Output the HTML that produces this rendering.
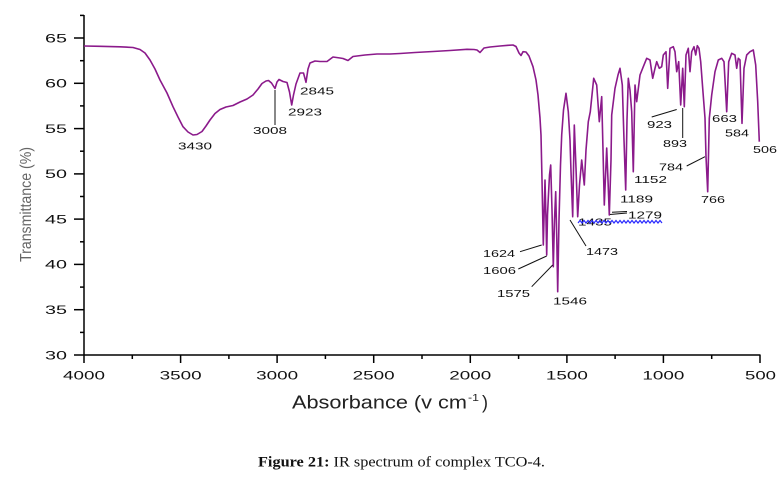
<!DOCTYPE html>
<html>
<head>
<meta charset="utf-8">
<style>
html,body{margin:0;padding:0;background:#fff;}
body{width:777px;height:481px;overflow:hidden;}
svg{display:block;}
.tk{font-family:"Liberation Sans",sans-serif;font-size:12px;fill:#111;}
.pk{font-family:"Liberation Sans",sans-serif;font-size:10.5px;fill:#111;}
</style>
</head>
<body>
<svg width="777" height="481" viewBox="0 0 777 481" xmlns="http://www.w3.org/2000/svg">
<rect width="777" height="481" fill="#fff"/>

<!-- axes -->
<g stroke="#000" stroke-width="1.5" fill="none">
<line x1="84" y1="15" x2="84" y2="355.5"/>
<line x1="83.5" y1="355" x2="760.5" y2="355"/>
<!-- y major ticks -->
<line x1="74" y1="355" x2="84" y2="355"/>
<line x1="74" y1="309.7" x2="84" y2="309.7"/>
<line x1="74" y1="264.4" x2="84" y2="264.4"/>
<line x1="74" y1="219.1" x2="84" y2="219.1"/>
<line x1="74" y1="173.9" x2="84" y2="173.9"/>
<line x1="74" y1="128.6" x2="84" y2="128.6"/>
<line x1="74" y1="83.3" x2="84" y2="83.3"/>
<line x1="74" y1="38" x2="84" y2="38"/>
<!-- y minor -->
<line x1="80" y1="332.4" x2="84" y2="332.4"/>
<line x1="80" y1="287.1" x2="84" y2="287.1"/>
<line x1="80" y1="241.8" x2="84" y2="241.8"/>
<line x1="80" y1="196.5" x2="84" y2="196.5"/>
<line x1="80" y1="151.2" x2="84" y2="151.2"/>
<line x1="80" y1="105.9" x2="84" y2="105.9"/>
<line x1="80" y1="60.7" x2="84" y2="60.7"/>
<line x1="80" y1="15.4" x2="84" y2="15.4"/>
<!-- x major -->
<line x1="84" y1="355" x2="84" y2="363"/>
<line x1="180.6" y1="355" x2="180.6" y2="363"/>
<line x1="277.1" y1="355" x2="277.1" y2="363"/>
<line x1="373.7" y1="355" x2="373.7" y2="363"/>
<line x1="470.3" y1="355" x2="470.3" y2="363"/>
<line x1="566.9" y1="355" x2="566.9" y2="363"/>
<line x1="663.4" y1="355" x2="663.4" y2="363"/>
<line x1="760" y1="355" x2="760" y2="363"/>
<!-- x minor -->
<line x1="132.3" y1="355" x2="132.3" y2="359"/>
<line x1="228.9" y1="355" x2="228.9" y2="359"/>
<line x1="325.4" y1="355" x2="325.4" y2="359"/>
<line x1="422" y1="355" x2="422" y2="359"/>
<line x1="518.6" y1="355" x2="518.6" y2="359"/>
<line x1="615.1" y1="355" x2="615.1" y2="359"/>
<line x1="711.7" y1="355" x2="711.7" y2="359"/>
</g>

<!-- y tick labels -->
<g class="tk">
<text x="45" y="359.3" textLength="22" lengthAdjust="spacingAndGlyphs">30</text>
<text x="45" y="314" textLength="22" lengthAdjust="spacingAndGlyphs">35</text>
<text x="45" y="268.7" textLength="22" lengthAdjust="spacingAndGlyphs">40</text>
<text x="45" y="223.4" textLength="22" lengthAdjust="spacingAndGlyphs">45</text>
<text x="45" y="178.2" textLength="22" lengthAdjust="spacingAndGlyphs">50</text>
<text x="45" y="132.9" textLength="22" lengthAdjust="spacingAndGlyphs">55</text>
<text x="45" y="87.6" textLength="22" lengthAdjust="spacingAndGlyphs">60</text>
<text x="45" y="42.3" textLength="22" lengthAdjust="spacingAndGlyphs">65</text>
</g>
<!-- x tick labels -->
<g class="tk">
<text x="63" y="379.5" textLength="42" lengthAdjust="spacingAndGlyphs">4000</text>
<text x="159.6" y="379.5" textLength="42" lengthAdjust="spacingAndGlyphs">3500</text>
<text x="256.1" y="379.5" textLength="42" lengthAdjust="spacingAndGlyphs">3000</text>
<text x="352.7" y="379.5" textLength="42" lengthAdjust="spacingAndGlyphs">2500</text>
<text x="449.3" y="379.5" textLength="42" lengthAdjust="spacingAndGlyphs">2000</text>
<text x="545.9" y="379.5" textLength="42" lengthAdjust="spacingAndGlyphs">1500</text>
<text x="642.4" y="379.5" textLength="42" lengthAdjust="spacingAndGlyphs">1000</text>
<text x="745" y="379.5" textLength="31" lengthAdjust="spacingAndGlyphs">500</text>
</g>

<!-- axis titles -->
<text transform="translate(31,262) rotate(-90)" font-family="Liberation Sans, sans-serif" font-size="16" fill="#666" textLength="115" lengthAdjust="spacingAndGlyphs">Transmittance (%)</text>

<text x="292" y="408.3" font-family="Liberation Sans, sans-serif" font-size="18" fill="#222" textLength="175" lengthAdjust="spacingAndGlyphs">Absorbance (v cm</text>
<text x="468" y="401" font-family="Liberation Sans, sans-serif" font-size="10" fill="#222" textLength="11" lengthAdjust="spacingAndGlyphs">-1</text>
<text x="482" y="408.3" font-family="Liberation Sans, sans-serif" font-size="18" fill="#222">)</text>

<!-- spectrum -->
<polyline fill="none" stroke="#8B1A8B" stroke-width="1.6" stroke-linejoin="round" points="
84,46 100,46.3 120,46.8 133,47.5 140,49.5 145,53 150,60 155,69 160,80 167,93 173,106.7 178,117 183,126.7 188,132 193,135 197,134.5 202,131.5 206,126 210,120 215,113.5 220,109.5 226,107 233,105.5 240,102 247,99 253,95 258,89 262,83.5 266,81 268.5,80.5 271.5,83 275,88.5 277,82 279,79.5 283,81.5 287,82.5 289.5,92 291.7,105 293.5,95 296,84 300,73 303.5,73 306,82.3 308,69 310,63 315,61 320,61.5 327,61.5 333,57 340,58 343,58.5 348,60.5 353,56.5 365,55 377,54 390,54 400,53.5 415,52.5 433,51.5 450,50.5 467,49.3 474,49.5 477,50 480,52.5 484,48 490,47 500,46 508,45.3 513,45 516,46.5 519,53 521,55.5 523,51.7 526,52 529,56 533,66.7 536,80 538,95 540,118 541,135 542,180 543.3,245 544.5,200 545,180 546,220 546.7,255 547.5,215 548.3,198 549.5,175 550.7,165 552,210 553.3,266.7 554.5,220 555.7,191.7 556.8,240 557.7,291.7 559,220 560.5,165 561.7,135 563.5,110 566,93.3 568.3,111.7 570,140 571,171.7 572.7,216.7 573.5,170 574.3,125 576,168 577.7,216.7 579.5,185 581.7,160 584.3,185 586,150 588.3,121.7 590.3,111.7 592,95 593.7,78.3 596.7,85 599.3,121.7 601.7,96.7 603,150 604.3,205 606.7,148 608,180 609.3,215 611,160 611.7,115 615,88.3 618,75 620,68.3 622.3,85 624,140 625.7,190 627,120 628.3,78.3 630,90 631.7,111.7 633.3,171.7 635,85 636.7,101.7 640,75 643.3,66.7 646.7,58.3 650,60 652.7,78.3 655,68.3 656.7,61.7 659.3,68.3 661.7,66.7 663.3,55 666,51.7 667.7,88.3 670,48.3 673.3,46.7 675,51.7 676.7,71.7 678.7,61.7 680.7,105 682.7,68.3 684.3,106.7 686,55 688.3,48.3 690,71.7 691.7,51.7 694,46.7 695.7,55 697.3,45.7 699,48.3 700.7,61.7 702.7,88.3 705,118 706,156.7 707.7,191.7 709.3,118.3 711.7,95 715,71.7 718.3,60 721.7,58.3 724,61.7 726.7,111.7 728.7,61.7 731.7,53.3 735,55 736.7,68.3 738.3,58.3 740,60 742,123.3 744,68.3 746.7,55 750,51.7 753.3,50 755.7,65 757.7,101.7 759.3,141.7"/>

<!-- leader lines -->
<g stroke="#111" stroke-width="1" fill="none">
<line x1="275" y1="90" x2="275" y2="125"/>
<line x1="651.7" y1="117" x2="676.7" y2="109.5"/>
<line x1="682.7" y1="108" x2="682.7" y2="138"/>
<line x1="686.7" y1="166" x2="705" y2="156.7"/>
<line x1="520" y1="251.7" x2="541.7" y2="245"/>
<line x1="518.3" y1="269" x2="546.7" y2="256"/>
<line x1="531.7" y1="286.7" x2="552.7" y2="265"/>
<line x1="570" y1="220" x2="586" y2="246"/>
<line x1="610" y1="214.5" x2="627" y2="213"/>
<line x1="612" y1="212.3" x2="627" y2="211.5"/>
</g>

<!-- peak labels -->
<g class="pk">
<text x="178" y="149.5" textLength="34" lengthAdjust="spacingAndGlyphs">3430</text>
<text x="253" y="133.8" textLength="34" lengthAdjust="spacingAndGlyphs">3008</text>
<text x="288" y="115.5" textLength="34" lengthAdjust="spacingAndGlyphs">2923</text>
<text x="300" y="94.5" textLength="34" lengthAdjust="spacingAndGlyphs">2845</text>
<text x="483" y="256.8" textLength="32" lengthAdjust="spacingAndGlyphs">1624</text>
<text x="483" y="273.8" textLength="33" lengthAdjust="spacingAndGlyphs">1606</text>
<text x="497" y="296.8" textLength="33" lengthAdjust="spacingAndGlyphs">1575</text>
<text x="553" y="304.5" textLength="34" lengthAdjust="spacingAndGlyphs">1546</text>
<text x="586" y="254.8" textLength="32" lengthAdjust="spacingAndGlyphs">1473</text>
<text x="578" y="225.5" textLength="34" lengthAdjust="spacingAndGlyphs">1435</text>
<text x="628" y="218.3" textLength="34" lengthAdjust="spacingAndGlyphs">1279</text>
<text x="620" y="202.6" textLength="33" lengthAdjust="spacingAndGlyphs">1189</text>
<text x="634" y="182.8" textLength="33" lengthAdjust="spacingAndGlyphs">1152</text>
<text x="647" y="128.1" textLength="25" lengthAdjust="spacingAndGlyphs">923</text>
<text x="663" y="147.1" textLength="24" lengthAdjust="spacingAndGlyphs">893</text>
<text x="659" y="170.5" textLength="24" lengthAdjust="spacingAndGlyphs">784</text>
<text x="701" y="202.8" textLength="24" lengthAdjust="spacingAndGlyphs">766</text>
<text x="712" y="122.1" textLength="25" lengthAdjust="spacingAndGlyphs">663</text>
<text x="725" y="136.5" textLength="24" lengthAdjust="spacingAndGlyphs">584</text>
<text x="753" y="152.8" textLength="24" lengthAdjust="spacingAndGlyphs">506</text>
</g>

<!-- blue wavy underline -->
<polyline fill="none" stroke="#2a2aff" stroke-width="1.2" points="578,223 580,220.5 582,223 584,220.5 586,223 588,220.5 590,223 592,220.5 594,223 596,220.5 598,223 600,220.5 602,223 604,220.5 606,223 608,220.5 610,223 612,220.5 614,223 616,220.5 618,223 620,220.5 622,223 624,220.5 626,223 628,220.5 630,223 632,220.5 634,223 636,220.5 638,223 640,220.5 642,223 644,220.5 646,223 648,220.5 650,223 652,220.5 654,223 656,220.5 658,223 660,220.5 662,223"/>

<!-- caption -->
<text x="258" y="466.7" font-family="Liberation Serif, serif" font-size="15" fill="#111" textLength="287" lengthAdjust="spacingAndGlyphs"><tspan font-weight="bold">Figure 21:</tspan> IR spectrum of complex TCO-4.</text>
</svg>
</body>
</html>
